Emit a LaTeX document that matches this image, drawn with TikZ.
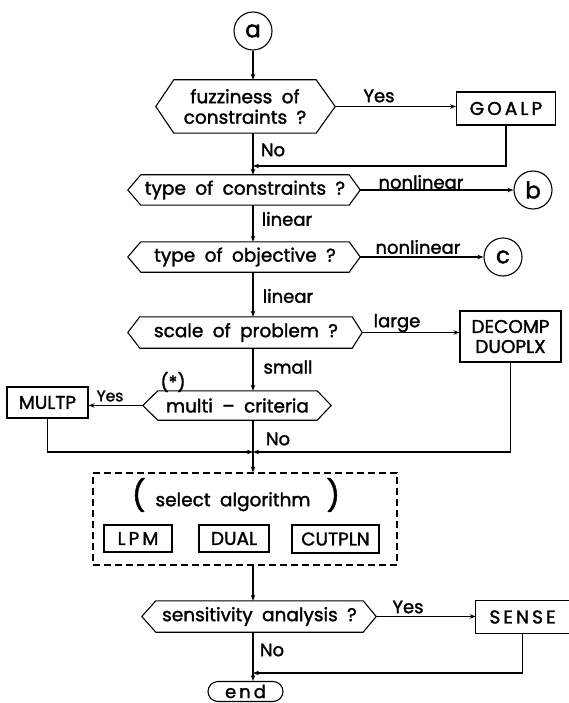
\documentclass[tikz,border=0pt]{standalone}
\usepackage{fontspec}
\setmainfont{Poppins}[WordSpace=1.9,BoldFont=Poppins,BoldFeatures={FakeBold=1.6}]
\usetikzlibrary{arrows.meta,shapes.misc}

% Outline of a decision box: flat top and bottom, pointed left and right ends.
% #1 = node name, #2 = left slant, #3 = right slant; defines #1-l and #1-r at the tips.
\newcommand\hexoutline[3]{%
  \draw[outline] (#1.north west) -- (#1.north east)
    -- ([xshift=#3]#1.east) coordinate (#1-r)
    -- (#1.south east) -- (#1.south west)
    -- ([xshift=-#2]#1.west) coordinate (#1-l) -- cycle;}

\begin{document}
\begin{tikzpicture}[x=1pt,y=-1pt,
  every node/.style={font=\bfseries\fontsize{18.5}{20.5}\selectfont},
  flow/.style={line width=1.5pt,-{Stealth[length=6pt,width=4.5pt]}},
  link/.style={line width=1.5pt},
  outline/.style={line width=1.1pt},
  hexbox/.style={inner sep=0pt,align=center},
  procbox/.style={draw,line width=1.1pt,inner sep=0pt,align=center},
  algbox/.style={procbox,font=\bfseries\fontsize{18.5}{20}\selectfont},
  conn/.style={draw,circle,line width=1.1pt,minimum size=38pt,inner sep=0pt,
               font=\bfseries\fontsize{23}{23}\selectfont},
  lbl/.style={inner sep=0pt,font=\bfseries\fontsize{18}{19}\selectfont}]

\useasboundingbox (0,0) rectangle (569,703);

% connector on the entry side
\node[conn] (a) at (253,31) {a};

% fuzziness of constraints
\node[hexbox,minimum width=142pt,minimum height=53pt] (h1) at (245,106.5)
  {fuzziness of\\constraints ?};
\hexoutline{h1}{18}{19}
\node[procbox,minimum width=99pt,minimum height=33pt] (goalp) at (506,108.5) {G\,O\,A\,L\,P};

% type of constraints
\node[hexbox,minimum width=208pt,minimum height=30pt] (h2) at (245,190) {type of constraints ?};
\hexoutline{h2}{13}{11}
\node[conn] (b) at (533,190) {b};

% type of objective
\node[hexbox,minimum width=208pt,minimum height=30pt] (h3) at (245,257) {type of objective ?};
\hexoutline{h3}{13}{11}
\node[conn] (c) at (503,257) {c};

% scale of problem
\node[hexbox,minimum width=212pt,minimum height=31pt] (h4) at (246,332.5) {scale of problem ?};
\hexoutline{h4}{12}{10}
\node[procbox,minimum width=101pt,minimum height=51pt,
      font=\bfseries\fontsize{18.5}{20}\selectfont] (decomp) at (510.5,336.5) {DECOMP\\DUOPLX};

% multi-criteria
\node[hexbox,minimum width=159pt,minimum height=29pt] (h5) at (237.5,405.5) {multi -- criteria};
\hexoutline{h5}{15}{14}
\node[procbox,minimum width=81pt,minimum height=31pt] (multp) at (47.5,402.5) {MULTP};

% algorithm selection group
\node[draw,line width=1.1pt,dash pattern=on 7pt off 4pt,
      minimum width=304pt,minimum height=92pt] (sel) at (245,519) {};
\node[inner sep=0pt] (selt) at (236,495)
  {{\fontsize{30}{30}\selectfont(}\hspace{10pt}select algorithm\hspace{16pt}{\fontsize{30}{30}\selectfont)}};
\node[algbox,minimum width=68pt,minimum height=27pt] (lpm) at (138,538.5) {L\,P\,M};
\node[algbox,minimum width=70pt,minimum height=27pt] (dual) at (234,538.5) {DUAL};
\node[algbox,minimum width=87pt,minimum height=28pt] (cutpln) at (335.5,539) {CUTPLN};

% sensitivity analysis
\node[hexbox,minimum width=207pt,minimum height=31pt] (h6) at (259.5,616.5) {sensitivity analysis ?};
\hexoutline{h6}{14}{13}
\node[inner sep=0pt,minimum width=93pt,minimum height=32pt] (sense) at (522.5,617) {S\,E\,N\,S\,E};
\draw[outline] (sense.north east) -- (sense.north west) -- (sense.south west) -- (sense.south east);

% terminal
\node[draw,rounded rectangle,line width=1.1pt,minimum width=75pt,minimum height=20pt,
      inner sep=0pt,font=\bfseries\fontsize{18}{18}\selectfont] (fin) at (245.5,691.5) {e\,n\,d};

% junction points on the main line
\coordinate (m1) at (253,166);
\coordinate (m2) at (253,452);
\coordinate (m3) at (253,673);

% main line
\draw[flow] (a) -- (a |- h1.north);
\draw[flow] (h1.south -| a) -- (h2.north -| a);
\draw[flow] (h2.south -| a) -- (h3.north -| a);
\draw[flow] (h3.south -| a) -- (h4.north -| a);
\draw[flow] (h4.south -| a) -- (h5.north -| a);
\draw[link] (h5.south -| a) -- (m2);
\draw[flow] (m2) -- (sel.north -| a);
\draw[flow] (sel.south -| a) -- (h6.north -| a);
\draw[link] (h6.south -| a) -- (m3);
\draw[flow] (m3) -- (fin.north -| a);

% branches
\draw[flow] (h1-r) -- (h1-r -| goalp.west);
\draw[flow] (goalp.south) |- (m1);
\draw[flow] (h2-r) -- (b);
\draw[flow] (h3-r) -- (c);
\draw[flow] (h4-r) -- (h4-r -| decomp.west);
\draw[flow] (decomp.south) |- (m2);
\draw[flow] (h5-l) -- (h5-l -| multp.east);
\draw[flow] (multp.south) |- (m2);
\draw[flow] (h6-r) -- (h6-r -| sense.west);
\draw[flow] (sense.south) |- (m3);

% branch labels
\node[lbl] (yes1) at (379,96) {Yes};
\node[lbl] (no1) at (273,150) {No};
\node[lbl] (nl1) at (421,182) {nonlinear};
\node[lbl] (lin1) at (287,219) {linear};
\node[lbl] (nl2) at (418,247) {nonlinear};
\node[lbl] (lin2) at (288,296) {linear};
\node[lbl] (large) at (397,323) {large};
\node[lbl] (small) at (288,367) {small};
\node[lbl] (star) at (173,382) {(*)};
\node[lbl,font=\bfseries\fontsize{15.5}{16}\selectfont] (yes2) at (110,396) {Yes};
\node[lbl] (no2) at (278,439) {No};
\node[lbl] (yes3) at (408,607) {Yes};
\node[lbl] (no3) at (272,650) {No};
\end{tikzpicture}
\end{document}
